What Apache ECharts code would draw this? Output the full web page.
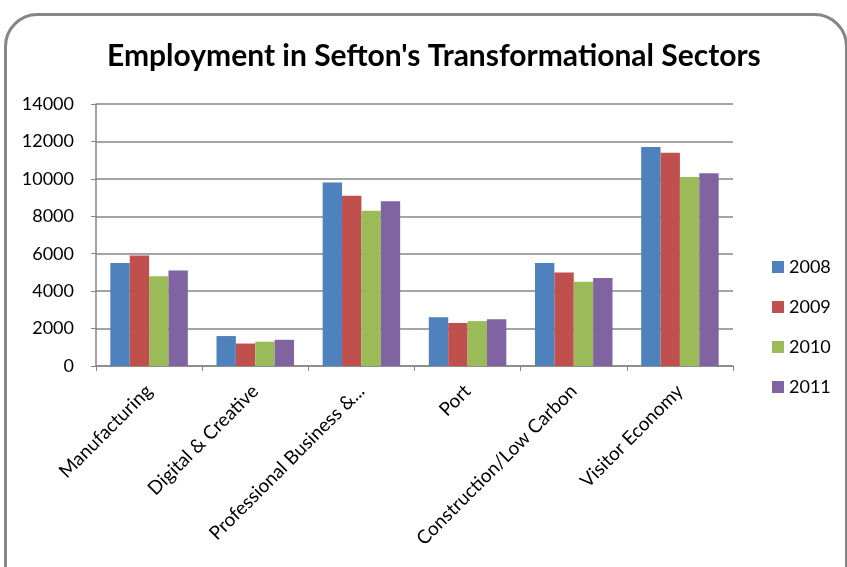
<!DOCTYPE html>
<html><head><meta charset="utf-8">
<script src="https://cdn.jsdelivr.net/npm/echarts@6/dist/echarts.min.js"></script>
<style>html,body{margin:0;padding:0;background:#fff}#c{width:847px;height:567px}</style>
</head><body><div id="c"></div>
<script>
const categories = ["Manufacturing","Digital & Creative","Professional Business &...","Port","Construction/Low Carbon","Visitor Economy"];
const seriesNames = ["2008","2009","2010","2011"];
const v2008 = [5500,1600,9800,2600,5500,11700];
const v2009 = [5900,1200,9100,2300,5000,11400];
const v2010 = [4800,1300,8300,2400,4500,10100];
const v2011 = [5100,1400,8800,2500,4700,10300];
const colors = ["#4F81BD","#C0504D","#9BBB59","#8064A2"];
const values = [v2008,v2009,v2010,v2011];
const font = "Lato, 'Open Sans', sans-serif";
const chart = echarts.init(document.getElementById('c'));
chart.setOption({
  animation:false,
  title:{text:"Employment in Sefton's Transformational Sectors",left:102,top:36,
    textStyle:{fontFamily:font,fontWeight:'bold',fontSize:30,color:'#000'}},
  graphic:[{type:'rect',left:3,top:12,shape:{x:0,y:0,width:841,height:600,r:32},
    style:{fill:'none',stroke:'#868686',lineWidth:3},silent:true,z:-1}],
  legend:{orient:'vertical',left:767,top:253,itemGap:22,itemWidth:12,itemHeight:12,
    icon:'rect',data:seriesNames,textStyle:{fontFamily:font,fontSize:18,color:'#000'}},
  grid:{left:96,right:114,top:104,bottom:201,containLabel:false},
  xAxis:{type:'category',data:categories,
    axisLine:{lineStyle:{color:'#868686',width:1.5}},
    axisTick:{show:true,alignWithLabel:false,lineStyle:{color:'#868686'}},
    axisLabel:{rotate:45,interval:0,fontFamily:font,fontSize:19,color:'#000',margin:22}},
  yAxis:{type:'value',min:0,max:14000,interval:2000,
    axisLine:{show:true,lineStyle:{color:'#868686',width:1.5}},
    axisTick:{show:true,length:5,inside:false,lineStyle:{color:'#868686'}},
    splitLine:{lineStyle:{color:'#868686',width:1.5}},
    axisLabel:{fontFamily:font,fontSize:18,color:'#000',margin:22,formatter:v=>String(v)}},
  series:seriesNames.map((n,i)=>({name:n,type:'bar',data:values[i],barGap:'0%',barCategoryGap:'27%',
    itemStyle:{color:colors[i]}}))
});
</script></body></html>
